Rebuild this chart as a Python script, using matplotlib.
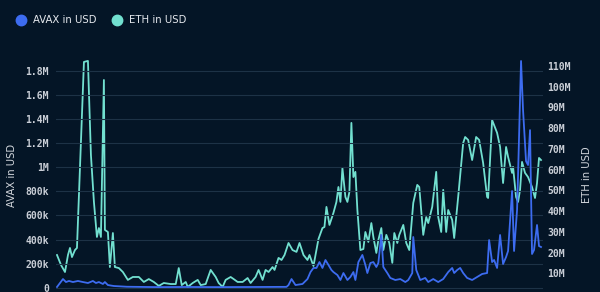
import matplotlib
matplotlib.use("Agg")
import matplotlib.pyplot as plt
from matplotlib.lines import Line2D
from matplotlib.ticker import FuncFormatter, MultipleLocator

# days from start of the window
eth_day = [0, 4, 8, 11, 13, 15, 18, 20, 27, 31, 34, 37, 40, 42, 44, 47, 48, 51, 53, 56,
           58, 62, 66, 71, 76, 82, 87, 92, 97, 102, 107, 114, 119, 122, 125, 129, 131, 136,
           141, 144, 149, 154, 159, 162, 166, 169, 174, 177, 181, 186, 191, 194, 199, 202,
           206, 209, 212, 216, 218, 222, 225, 228, 232, 236, 240, 243, 247, 251, 253, 257,
           262, 266, 268, 270, 273, 277, 280, 282, 284, 286, 289, 291, 293, 295, 297, 299,
           301, 304, 307, 309, 312, 315, 317, 320, 322, 325, 327, 330, 333, 336, 338, 341,
           343, 347, 350, 353, 357, 361, 363, 367, 370, 372, 376, 380, 382, 385, 387, 390,
           392, 396, 398, 402, 407, 409, 412, 416, 420, 423, 427, 431, 432, 436, 441, 444,
           447, 450, 452, 456, 457, 460, 462, 464, 466, 469, 472, 476, 479, 481, 483, 485]
eth_usd_m = [18.8, 14.0, 10.6, 18.8, 22.2, 17.8, 21.2, 22.2, 111.9, 112.4, 67.0, 44.4, 27.5,
             31.8, 27.5, 103.2, 30.9, 29.9, 13.0, 29.4, 13.0, 12.5, 10.6, 6.8, 8.2, 8.2, 5.8,
             7.2, 5.8, 3.9, 5.3, 4.8, 4.8, 12.5, 4.3, 5.8, 3.4, 5.3, 6.8, 4.3, 4.8, 11.6, 8.2,
             5.3, 3.4, 6.8, 8.2, 7.2, 5.8, 5.8, 7.7, 5.3, 8.2, 11.6, 6.8, 11.6, 10.6, 13.0,
             11.6, 17.4, 16.4, 18.8, 24.6, 21.2, 20.3, 24.6, 18.8, 16.4, 18.8, 13.5, 26.5,
             31.8, 32.3, 42.0, 33.3, 39.1, 44.4, 51.6, 44.4, 60.8, 46.8, 44.4, 49.2, 82.5,
             56.4, 58.9, 40.5, 21.2, 21.7, 29.9, 25.1, 34.2, 27.5, 19.8, 26.0, 31.8, 21.2,
             28.5, 24.6, 15.0, 29.4, 24.6, 28.5, 33.3, 24.6, 21.2, 43.9, 52.6, 51.6, 28.5,
             37.1, 34.2, 42.0, 58.9, 37.1, 29.9, 50.2, 29.9, 40.5, 35.7, 27.0, 46.8, 72.8,
             75.7, 74.3, 64.6, 75.7, 74.3, 63.2, 46.8, 46.3, 83.9, 77.7, 70.9, 53.5, 70.9,
             66.1, 58.4, 61.3, 46.8, 44.4, 50.2, 63.7, 58.4, 56.4, 51.6, 46.3, 53.5, 65.6, 64.6]

avax_day = [0, 6, 9, 12, 16, 21, 26, 31, 36, 39, 42, 46, 48, 51, 57, 70, 100, 130, 160, 200,
            230, 232, 235, 239, 246, 251, 254, 257, 260, 263, 266, 269, 272, 275, 277, 281,
            284, 287, 291, 294, 297, 299, 302, 306, 309, 311, 314, 317, 320, 322, 325, 327,
            331, 334, 339, 344, 349, 352, 356, 357, 360, 364, 369, 372, 377, 382, 387, 392,
            396, 398, 401, 404, 407, 411, 416, 421, 426, 431, 433, 436, 438, 441, 444, 447,
            450, 452, 456, 458, 461, 462, 465, 467, 470, 472, 474, 476, 478, 481, 483, 485]
avax_usd_k = [6, 72, 47, 56, 47, 56, 47, 39, 56, 39, 47, 31, 47, 22, 14, 8, 5, 6, 5, 6,
              7, 22, 72, 22, 31, 72, 130, 164, 164, 213, 164, 230, 189, 147, 130, 105,
              64, 122, 64, 89, 130, 64, 213, 272, 189, 122, 205, 213, 172, 205, 438, 172,
              122, 81, 64, 72, 47, 64, 122, 421, 147, 64, 81, 47, 72, 47, 72, 130,
              164, 122, 147, 164, 122, 81, 64, 89, 114, 122, 396, 213, 230, 164, 438, 197,
              255, 305, 803, 305, 645, 936, 1883, 1476, 1051, 1019, 1309, 280, 313, 521, 346, 338]

BG = "#041526"
GRID = "#1d3246"
TICK = "#c9ced6"
AVAX_C = "#3d6cf0"
ETH_C = "#72e0d0"

fig = plt.figure(figsize=(6, 2.92), dpi=100, facecolor=BG)
ax = fig.add_axes([56 / 600, 0.0, 487 / 600, 234 / 292])
ax2 = ax.twinx()
ax.set_zorder(ax2.get_zorder() + 1)
ax.patch.set_visible(False)
ax2.set_facecolor(BG)

ax2.plot(eth_day, [v * 1e6 for v in eth_usd_m], color=ETH_C, lw=1.3)
ax.plot(avax_day, [v * 1e3 for v in avax_usd_k], color=AVAX_C, lw=1.3)

ax.set_xlim(-1, 487)
ax.set_ylim(-35.7e3, 1.908e6)
ax2.set_ylim(0.96e6, 113.8e6)

ax.yaxis.set_major_locator(MultipleLocator(200e3))
ax2.yaxis.set_major_locator(MultipleLocator(10e6))


def fmt_left(v, pos):
    if v == 0:
        return "0"
    if v >= 1e6:
        return f"{v / 1e6:g}M"
    return f"{v / 1e3:g}k"


def fmt_right(v, pos):
    if v <= 0:
        return ""
    return f"{v / 1e6:g}M"


ax.yaxis.set_major_formatter(FuncFormatter(fmt_left))
ax2.yaxis.set_major_formatter(FuncFormatter(fmt_right))

for a, pad in ((ax, 5), (ax2, 3)):
    for s in a.spines.values():
        s.set_visible(False)
    a.tick_params(axis="y", length=0, colors=TICK, labelsize=7, pad=pad)
    a.set_xticks([])
    for lbl in a.get_yticklabels():
        lbl.set_family("DejaVu Sans Mono")
        lbl.set_fontweight("bold")

ax.grid(axis="y", color=GRID, lw=0.8)
ax.set_axisbelow(True)

ax.set_ylabel("AVAX in USD", color="#d4d8de", fontsize=7.2, labelpad=6)
ax2.set_ylabel("ETH in USD", color="#d4d8de", fontsize=7.2, labelpad=8)

handles = [Line2D([], [], marker="o", ls="", color=AVAX_C, markersize=7.5),
           Line2D([], [], marker="o", ls="", color=ETH_C, markersize=7.5)]
fig.legend(handles, ["AVAX in USD", "ETH in USD"], loc="center left",
           bbox_to_anchor=(0.018, 0.93), ncol=2, frameon=False, fontsize=7.3,
           labelcolor="#e6e9ee", handletextpad=0.2, columnspacing=1.0,
           borderaxespad=0.0, borderpad=0.0)

fig.savefig("out.png", dpi=100, facecolor=BG)
